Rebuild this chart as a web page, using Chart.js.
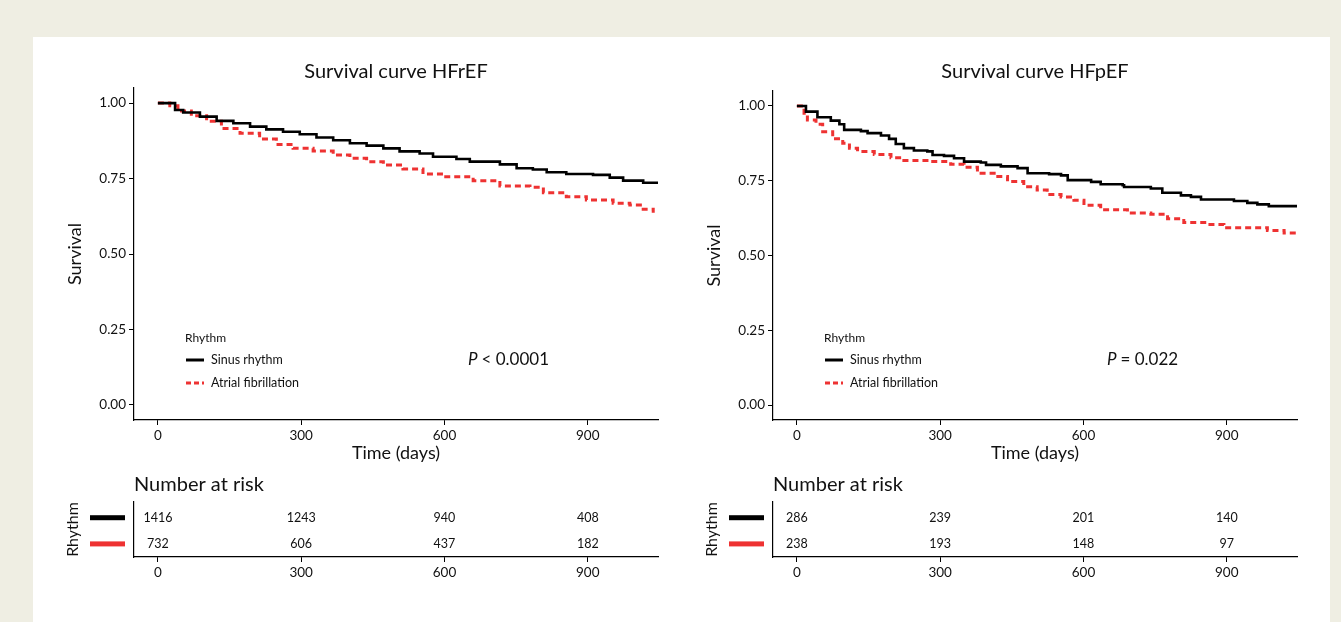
<!DOCTYPE html>
<html>
<head>
<meta charset="utf-8">
<script src="https://cdn.jsdelivr.net/npm/chart.js@4.4.1/dist/chart.umd.min.js"></script>
<style>
    html, body { margin: 0; padding: 0; background: #efeee3; width: 1341px; height: 622px; overflow: hidden; }
    #panel { position: absolute; left: 33px; top: 37px; width: 1297px; height: 600px; background: #fff; }
    canvas { position: absolute; }
</style>
</head>
<body>
<div id="panel"></div>
<canvas id="kmLeft" width="620" height="420" style="left:50px;top:50px"></canvas>
<canvas id="kmRight" width="620" height="420" style="left:689px;top:50px"></canvas>
<canvas id="riskLeft" width="620" height="120" style="left:50px;top:465px"></canvas>
<canvas id="riskRight" width="620" height="120" style="left:689px;top:465px"></canvas>
<script>
const xTicks = [0, 300, 600, 900];
const yTicks = [0, 0.25, 0.5, 0.75, 1];
const seriesNames = ["Sinus rhythm", "Atrial fibrillation"];

// HFrEF
const hfrefSinusTime = [0, 36, 53, 88, 123, 158, 193, 227, 262, 297, 332, 367, 402, 437, 472, 506, 548, 576, 625, 653, 716, 751, 785, 814, 855, 911, 946, 974, 1016, 1047];
const hfrefSinusSurv = [1.00, 0.977, 0.969, 0.955, 0.941, 0.933, 0.922, 0.913, 0.905, 0.897, 0.886, 0.877, 0.867, 0.859, 0.850, 0.840, 0.833, 0.822, 0.815, 0.806, 0.797, 0.784, 0.780, 0.771, 0.765, 0.762, 0.753, 0.743, 0.736, 0.736];
const hfrefAfTime = [0, 25, 42, 70, 102, 133, 172, 213, 248, 283, 325, 367, 402, 437, 472, 513, 555, 597, 660, 716, 779, 807, 855, 897, 953, 988, 1016, 1037];
const hfrefAfSurv = [1.00, 0.991, 0.974, 0.958, 0.940, 0.916, 0.900, 0.881, 0.863, 0.850, 0.841, 0.828, 0.817, 0.806, 0.795, 0.782, 0.765, 0.756, 0.743, 0.725, 0.721, 0.703, 0.690, 0.679, 0.668, 0.662, 0.648, 0.637];

// HFpEF
const hfpefSinusTime = [0, 19, 43, 71, 89, 99, 134, 148, 176, 193, 207, 224, 245, 273, 284, 308, 329, 350, 385, 396, 427, 462, 483, 528, 553, 567, 616, 636, 682, 685, 741, 765, 804, 825, 846, 915, 943, 964, 988, 1047];
const hfpefSinusSurv = [1.00, 0.981, 0.962, 0.951, 0.939, 0.920, 0.916, 0.909, 0.901, 0.890, 0.873, 0.859, 0.851, 0.848, 0.836, 0.833, 0.825, 0.814, 0.811, 0.803, 0.798, 0.792, 0.775, 0.772, 0.768, 0.752, 0.746, 0.738, 0.735, 0.729, 0.724, 0.710, 0.701, 0.696, 0.687, 0.682, 0.676, 0.671, 0.665, 0.665];
const hfpefAfTime = [0, 15, 22, 40, 54, 75, 96, 110, 127, 162, 197, 224, 280, 322, 350, 378, 413, 441, 475, 503, 524, 553, 580, 601, 636, 692, 741, 776, 810, 859, 894, 964, 985, 1020, 1045];
const hfpefAfSurv = [1.00, 0.976, 0.953, 0.939, 0.914, 0.890, 0.875, 0.859, 0.848, 0.838, 0.827, 0.818, 0.814, 0.805, 0.795, 0.775, 0.764, 0.747, 0.730, 0.719, 0.704, 0.696, 0.685, 0.668, 0.653, 0.642, 0.638, 0.623, 0.610, 0.604, 0.593, 0.593, 0.584, 0.575, 0.567];

// number at risk
const riskTimes = [0, 300, 600, 900];
const hfrefRiskSinus = [1416, 1243, 940, 408];
const hfrefRiskAf = [732, 606, 437, 182];
const hfpefRiskSinus = [286, 239, 201, 140];
const hfpefRiskAf = [238, 193, 148, 97];

const FONT = "Lato, 'Noto Sans', sans-serif";
const RED = "#ee3232";

function pairs(t, s) {
    return t.map((v, i) => ({ x: v, y: s[i] }));
}

const kmNotes = {
    id: "kmNotes",
    afterDraw(chart, args, opts) {
        const ctx = chart.ctx;
        const a = chart.chartArea;
        const x0 = a.left + 51;
        const yb = a.bottom;
        ctx.save();
        ctx.fillStyle = "#111";
        ctx.textBaseline = "middle";
        ctx.font = "12px " + FONT;
        ctx.fillText("Rhythm", x0, yb - 82);
        ctx.font = "12.5px " + FONT;
        ctx.fillText(seriesNames[0], x0 + 26, yb - 60);
        ctx.fillText(seriesNames[1], x0 + 26, yb - 37);
        ctx.lineWidth = 3;
        ctx.strokeStyle = "#000";
        ctx.beginPath();
        ctx.moveTo(x0 + 1, yb - 60);
        ctx.lineTo(x0 + 19, yb - 60);
        ctx.stroke();
        ctx.strokeStyle = RED;
        ctx.setLineDash([5, 3]);
        ctx.beginPath();
        ctx.moveTo(x0 + 1, yb - 37);
        ctx.lineTo(x0 + 19, yb - 37);
        ctx.stroke();
        ctx.setLineDash([]);
        // p value
        const px = a.left + 334;
        ctx.font = "italic 17px " + FONT;
        ctx.fillText("P", px, yb - 60);
        const w = ctx.measureText("P ").width;
        ctx.font = "17px " + FONT;
        ctx.fillText(opts.p, px + w, yb - 60);
        ctx.restore();
    }
};

function kmChart(id, title, sinusT, sinusS, afT, afS, pText, titleBottom) {
    new Chart(document.getElementById(id), {
        type: "line",
        data: {
            datasets: [
                { label: seriesNames[0], data: pairs(sinusT, sinusS), borderColor: "#000", borderWidth: 2.6, stepped: true, pointRadius: 0 },
                { label: seriesNames[1], data: pairs(afT, afS), borderColor: RED, borderWidth: 3, borderDash: [6, 4], stepped: true, pointRadius: 0 }
            ]
        },
        options: {
            responsive: false,
            animation: false,
            layout: { padding: { left: 12, right: 12, top: 0, bottom: 0 } },
            plugins: {
                legend: { display: false },
                tooltip: { enabled: false },
                title: { display: true, text: title, fullSize: false, color: "#111", font: { family: FONT, size: 20, weight: "normal" }, padding: { top: 10, bottom: titleBottom } },
                kmNotes: { p: pText }
            },
            scales: {
                x: {
                    type: "linear", min: -50, max: 1047,
                    afterBuildTicks: s => { s.ticks = xTicks.map(v => ({ value: v })); },
                    afterFit: s => { s.height = 50; },
                    grid: { drawOnChartArea: false, color: "#000", tickLength: 5 },
                    border: { color: "#000", width: 1.2 },
                    ticks: { color: "#111", font: { family: FONT, size: 13.5 }, padding: 3, maxRotation: 0 },
                    title: { display: true, text: "Time (days)", color: "#111", font: { family: FONT, size: 18 }, padding: { top: 0, bottom: 6.2 } }
                },
                y: {
                    type: "linear", min: -0.05, max: 1.05,
                    afterBuildTicks: s => { s.ticks = yTicks.map(v => ({ value: v })); },
                    afterFit: s => { s.width = 72; },
                    grid: { drawOnChartArea: false, color: "#000", tickLength: 5 },
                    border: { color: "#000", width: 1.2 },
                    ticks: { color: "#111", font: { family: FONT, size: 13.5 }, padding: 3, callback: v => v.toFixed(2) },
                    title: { display: true, text: "Survival", color: "#111", font: { family: FONT, size: 18 }, padding: { top: 2.2, bottom: 0 } }
                }
            }
        },
        plugins: [kmNotes]
    });
}

const riskNumbers = {
    id: "riskNumbers",
    afterDraw(chart, args, opts) {
        const ctx = chart.ctx;
        const xs = chart.scales.x;
        const ys = chart.scales.y;
        ctx.save();
        ctx.textAlign = "center";
        ctx.textBaseline = "middle";
        ctx.font = "12.5px " + FONT;
        [opts.sinus, opts.af].forEach((row, r) => {
            const y = ys.getPixelForValue(2 - r);
            ctx.fillStyle = "#111";
            riskTimes.forEach((t, i) => {
                ctx.fillText(String(row[i]), xs.getPixelForValue(t), y);
            });
            ctx.fillStyle = r === 0 ? "#000" : RED;
            ctx.fillRect(chart.chartArea.left - 44, y - 2.5, 35, 5);
        });
        ctx.restore();
    }
};

function riskChart(id, sinus, af) {
    new Chart(document.getElementById(id), {
        type: "scatter",
        data: {
            datasets: [
                { data: riskTimes.map(t => ({ x: t, y: 2 })), pointRadius: 0 },
                { data: riskTimes.map(t => ({ x: t, y: 1 })), pointRadius: 0 }
            ]
        },
        options: {
            responsive: false,
            animation: false,
            layout: { padding: { left: 12, right: 12, top: 0, bottom: 0 } },
            plugins: {
                legend: { display: false },
                tooltip: { enabled: false },
                title: { display: true, text: "Number at risk", align: "start", fullSize: false, color: "#111", font: { family: FONT, size: 20, weight: "normal" }, padding: { top: 8, bottom: 5 } },
                riskNumbers: { sinus: sinus, af: af }
            },
            scales: {
                x: {
                    type: "linear", min: -50, max: 1047,
                    afterBuildTicks: s => { s.ticks = xTicks.map(v => ({ value: v })); },
                    afterFit: s => { s.height = 28; },
                    grid: { drawOnChartArea: false, color: "#000", tickLength: 5 },
                    border: { color: "#000", width: 1.2 },
                    ticks: { color: "#111", font: { family: FONT, size: 13.5 }, padding: 3, maxRotation: 0 }
                },
                y: {
                    type: "linear", min: 0.5, max: 2.6,
                    afterFit: s => { s.width = 72; },
                    grid: { display: false },
                    border: { color: "#000", width: 1.2 },
                    ticks: { display: false },
                    title: { display: true, text: "Rhythm", color: "#111", font: { family: FONT, size: 16 }, padding: { top: 1, bottom: 0 } }
                }
            }
        },
        plugins: [riskNumbers]
    });
}

kmChart("kmLeft", "Survival curve HFrEF", hfrefSinusTime, hfrefSinusSurv, hfrefAfTime, hfrefAfSurv, "< 0.0001", 4);
kmChart("kmRight", "Survival curve HFpEF", hfpefSinusTime, hfpefSinusSurv, hfpefAfTime, hfpefAfSurv, "= 0.022", 7);
riskChart("riskLeft", hfrefRiskSinus, hfrefRiskAf);
riskChart("riskRight", hfpefRiskSinus, hfpefRiskAf);
</script>
</body>
</html>
